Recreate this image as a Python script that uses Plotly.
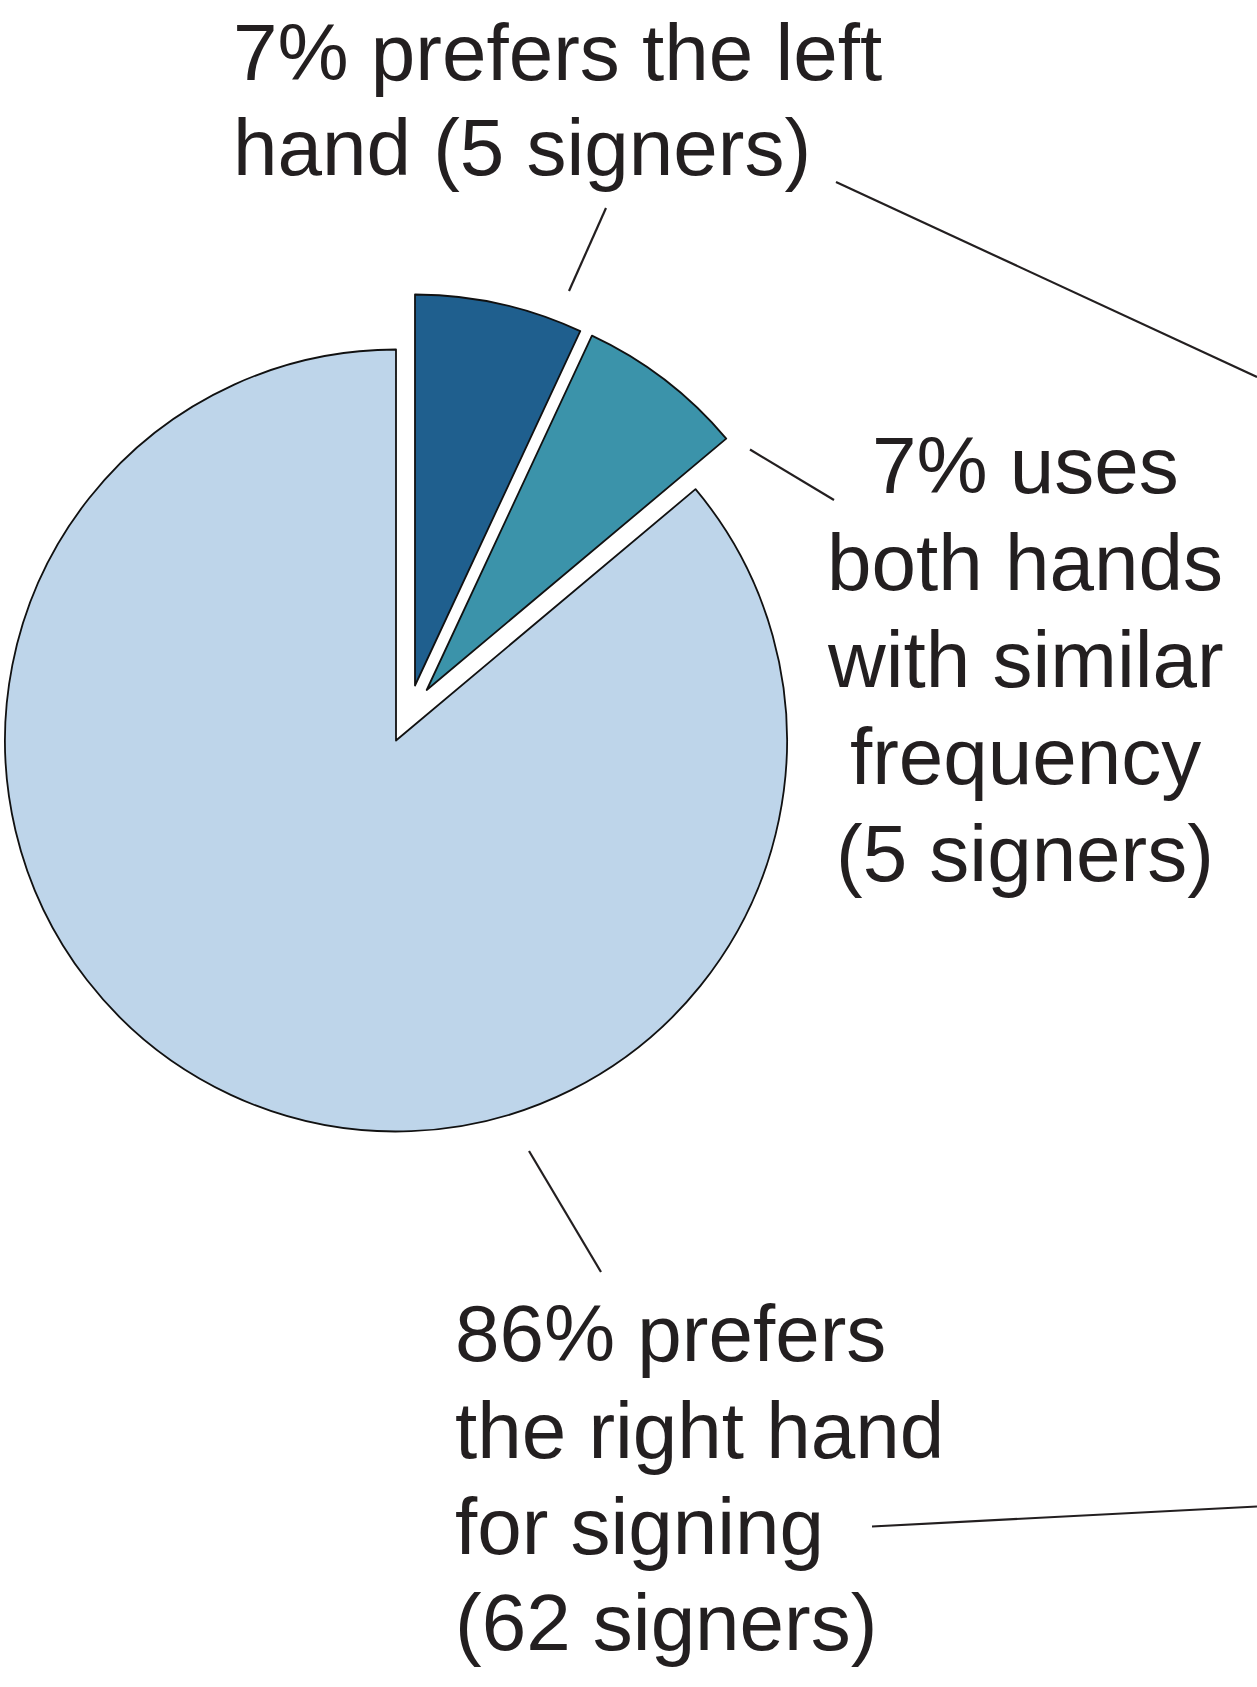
import plotly.graph_objects as go

# ---- data ----
labels = ["prefers the left hand", "uses both hands with similar frequency", "prefers the right hand"]
signers = [5, 5, 62]
percent_text = ["7%", "7%", "86%"]
colors = ["#1f5f8e", "#3b93aa", "#bed5ea"]

label_lines = [
    ["7% prefers the left", "hand (5 signers)"],
    ["7% uses", "both hands", "with similar", "frequency", "(5 signers)"],
    ["86% prefers", "the right hand", "for signing", "(62 signers)"],
]

W, H = 1257, 1687
R = 391
EDGE = "#111111"
TXT = "#231f20"
FS = 80
FONT = "Liberation Sans, Arial, Helvetica, sans-serif"

# slice centres (px): the two small slices are pulled out of the pie
centres = [(415, 685.5), (426.7, 690), (396, 740.5)]

def px_domain(cx, cy, r):
    return dict(x=[(cx - r) / W, (cx + r) / W], y=[1 - (cy + r) / H, 1 - (cy - r) / H])

fig = go.Figure()
for i, (cx, cy) in enumerate(centres):
    cols = ["rgba(0,0,0,0)"] * len(signers)
    widths = [0] * len(signers)
    cols[i] = colors[i]
    widths[i] = 1.8
    fig.add_trace(go.Pie(
        labels=labels, values=signers, sort=False, direction="clockwise", rotation=0,
        marker=dict(colors=cols, line=dict(color=EDGE, width=widths)),
        textinfo="none", hoverinfo="label+value", showlegend=False,
        domain=px_domain(cx, cy, R),
    ))

# text lines: (x px, baseline px, anchor)
def add_line(text, x, baseline, anchor):
    fig.add_annotation(
        text=text, x=x / W, y=1 - (baseline - 0.3465 * FS) / H,
        xref="paper", yref="paper", xanchor=anchor, yanchor="middle",
        showarrow=False, font=dict(family=FONT, size=FS, color=TXT),
    )

for t, b in zip(label_lines[0], [80, 175]):
    add_line(t, 231, b, "left")
for t, b in zip(label_lines[1], [493, 590, 687, 784, 881]):
    add_line(t, 1025, b, "center")
for t, b in zip(label_lines[2], [1361, 1458, 1554, 1650]):
    add_line(t, 453, b, "left")

# leader lines
leaders = [
    ((569, 291), (606, 208)),
    ((836, 182), (1257, 377)),
    ((750, 449.5), (834, 500)),
    ((529, 1151), (601, 1272)),
    ((872, 1526.5), (1257, 1506.5)),
]
for (x0, y0), (x1, y1) in leaders:
    fig.add_shape(type="line", xref="paper", yref="paper",
                  x0=x0 / W, y0=1 - y0 / H, x1=x1 / W, y1=1 - y1 / H,
                  line=dict(color=TXT, width=2.2))

fig.update_layout(
    width=W, height=H, margin=dict(l=0, r=0, t=0, b=0),
    paper_bgcolor="white", plot_bgcolor="white",
)
fig.write_html("out.html")
